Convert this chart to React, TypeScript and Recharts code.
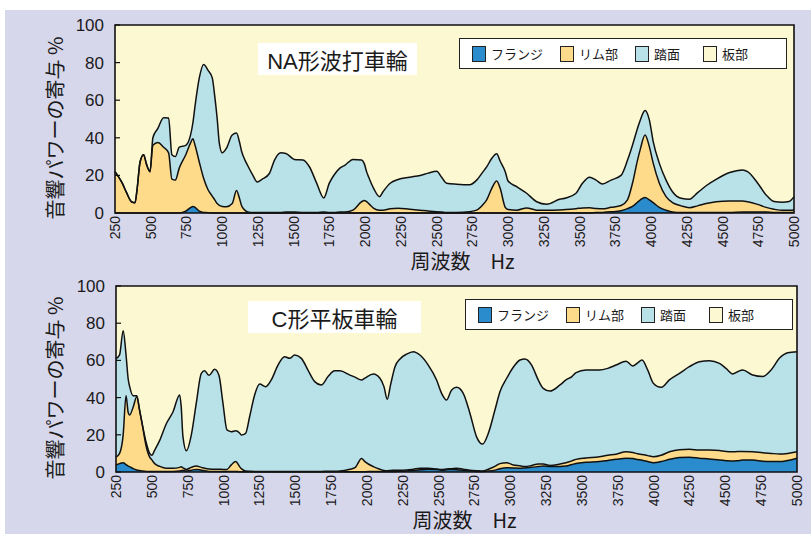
import { ComposedChart, Area, Line, XAxis, YAxis, ReferenceArea } from 'recharts';

const LATIN = '"Liberation Sans", Arial, "Noto Sans CJK JP", sans-serif';
const JP = '"Noto Sans CJK JP", "Liberation Sans", sans-serif';

const freqTicks = [250, 500, 750, 1000, 1250, 1500, 1750, 2000, 2250, 2500, 2750, 3000, 3250, 3500, 3750, 4000, 4250, 4500, 4750, 5000];
const pctTicks = [0, 20, 40, 60, 80, 100];

const seriesKeys = ['flange', 'rim', 'tread', 'plate'];
const seriesNames = ['フランジ', 'リム部', '踏面', '板部'];
const seriesColors = ['#2a8ccc', '#fddb8b', '#b9e1e8', '#fcf8d1'];

// NA形波打車輪 : upper edge of each band (%)
const naFreq = [250, 300, 330, 365, 390, 405, 425, 450, 470, 495, 515, 550, 590, 625, 648, 672, 700, 745, 777, 795, 810, 840, 870, 900, 930, 948, 965, 980, 1000, 1030, 1070, 1100, 1120, 1135, 1160, 1180, 1215, 1245, 1280, 1330, 1365, 1410, 1445, 1505, 1565, 1610, 1660, 1710, 1750, 1785, 1825, 1860, 1915, 1975, 1995, 2010, 2025, 2060, 2100, 2125, 2175, 2230, 2310, 2385, 2440, 2500, 2535, 2570, 2640, 2730, 2780, 2825, 2850, 2885, 2920, 2945, 2980, 3000, 3060, 3130, 3200, 3270, 3360, 3405, 3475, 3520, 3570, 3615, 3660, 3720, 3790, 3835, 3870, 3905, 3925, 3958, 3988, 4015, 4058, 4105, 4150, 4210, 4268, 4326, 4385, 4455, 4550, 4640, 4675, 4745, 4805, 4860, 4920, 4965, 5000];
const naTreadTop = [22, 16, 11, 6, 5.5, 13, 27, 31, 26, 22, 40, 45, 50.7, 50.5, 31, 30, 35, 36, 41, 48, 57, 72, 79, 76, 72, 62, 50, 37, 32, 34.5, 41.5, 42.5, 38, 33, 28, 25, 20, 16.5, 18, 21, 28, 32, 31.7, 28.5, 28.2, 24.6, 16, 8, 16, 20.5, 24, 25.5, 28.5, 28.2, 26, 22, 19, 13, 8.7, 11.3, 15.8, 17.8, 19, 20, 21.2, 22.2, 19, 15.8, 15.3, 15, 17.5, 22, 24.5, 29, 31.5, 27.5, 22, 17, 14, 10.5, 6, 4.7, 7.3, 8, 10.5, 15.8, 19, 17.5, 15.4, 17.5, 20, 28, 36, 45, 49.5, 54.5, 49.5, 38, 26.4, 17.5, 11.3, 7.8, 7.3, 10.8, 14.5, 17.9, 21.5, 22.9, 22, 16, 9.6, 6.1, 5.7, 6.1, 8.7];
const naRimTop = [22, 16, 11, 6, 5.5, 13, 27, 31, 26, 22, 36, 37.5, 35, 32, 18, 17.5, 24, 31, 37, 39.5, 36, 27, 18.5, 12.5, 9, 7, 5, 4, 3.5, 3.3, 5, 12, 8, 4, 1.4, 0.5, 0.2, 0.2, 0.2, 0.3, 0.3, 0.3, 0.5, 0.5, 0.3, 0.3, 0.3, 0.5, 0.3, 0.3, 0.5, 0.5, 1.5, 6, 6.6, 6, 5, 2.5, 1.5, 1.5, 2.3, 2.5, 2, 1.5, 1, 0.7, 0.5, 0.3, 0.3, 0.7, 1.5, 4.5, 7, 13, 17, 13, 3, 1.8, 1.5, 2.7, 1.5, 1.4, 1.6, 1.8, 2.3, 2.7, 2.8, 2.4, 2.2, 3, 4, 7, 15.8, 28, 34, 41.5, 35.3, 26.5, 15.8, 8.7, 5.5, 3.8, 2.8, 3.8, 5, 6, 6.4, 6.4, 6, 4.6, 3, 2, 1.4, 1.4, 1.6];
const naFlangeTop = [0, 0, 0, 0, 0, 0, 0, 0, 0, 0, 0, 0, 0, 0, 0, 0, 0, 1, 2.8, 3.5, 3, 1, 0.3, 0.2, 0, 0, 0, 0, 0, 0, 0, 0, 0, 0, 0, 0, 0, 0, 0, 0, 0, 0, 0, 0, 0, 0, 0, 0, 0, 0, 0, 0, 0, 0, 0, 0, 0, 0, 0, 0, 0, 0, 0, 0, 0, 0, 0, 0, 0, 0, 0, 0, 0, 0, 0, 0, 0, 0, 0, 0, 0, 0, 0, 0, 0, 0, 0, 0.2, 0.3, 0.6, 1.2, 2.3, 3.5, 5.7, 7, 8.3, 7, 5.5, 3, 1.5, 0.5, 0.2, 0.2, 0.2, 0.2, 0.3, 0.3, 0.5, 0.5, 0.5, 0.5, 0.3, 0.3, 0.3, 0.3];

// C形平板車輪
const cFreq = [250, 275, 300, 320, 335, 345, 370, 395, 415, 430, 460, 485, 500, 520, 555, 600, 648, 694, 705, 717, 741, 775, 810, 845, 868, 899, 938, 968, 996, 1024, 1054, 1085, 1112, 1124, 1154, 1182, 1217, 1252, 1294, 1333, 1380, 1426, 1461, 1496, 1543, 1589, 1636, 1682, 1729, 1775, 1812, 1882, 1917, 1963, 1986, 2045, 2091, 2119, 2142, 2165, 2196, 2231, 2277, 2324, 2370, 2428, 2486, 2521, 2556, 2591, 2626, 2672, 2719, 2765, 2807, 2847, 2893, 2928, 2975, 3021, 3068, 3102, 3149, 3195, 3230, 3277, 3347, 3389, 3430, 3459, 3528, 3621, 3680, 3738, 3808, 3854, 3889, 3919, 3959, 3998, 4052, 4110, 4180, 4249, 4319, 4389, 4459, 4505, 4552, 4586, 4621, 4691, 4761, 4819, 4877, 4935, 5000];
const cTreadTop = [61, 63, 76, 63, 50, 46, 41, 41, 33, 27, 16, 10, 9, 11.8, 17, 25.8, 32.4, 41.4, 35, 19, 11.4, 19.8, 37, 53, 54.4, 52, 55.2, 52, 37, 22.6, 21.7, 22.2, 21, 19.9, 20.8, 29.7, 41.4, 47.3, 45.9, 49.5, 57.5, 62, 61.1, 62.9, 61.1, 54.8, 48.6, 46.8, 51.3, 54.4, 54.4, 52.1, 51, 49.5, 50.5, 52.7, 50.4, 45.9, 39.1, 46.8, 56.6, 60.8, 63.4, 64.7, 62.9, 57.5, 49.5, 42.3, 38.7, 44.1, 45.5, 42.3, 31.5, 18.9, 15, 20.8, 33.3, 43.2, 50.4, 56.3, 60.2, 60.8, 57.5, 49.5, 45, 43.5, 46.8, 49.5, 51.3, 53.4, 54.8, 54.8, 55.7, 57.5, 59.6, 57, 58.7, 60.2, 54.8, 47.7, 45.5, 49.5, 53, 56.6, 59.3, 59.8, 58.4, 55.7, 52.7, 53.9, 54.8, 52.1, 51.3, 54.8, 61.1, 64.1, 64.7];
const cRimTop = [8, 10, 20, 41, 32, 30.6, 35, 40.5, 33, 27, 14, 8, 6.5, 4.5, 3, 2, 2, 2.5, 2.8, 2.2, 1.4, 2.5, 3.2, 2.5, 2, 1.6, 1.5, 1.5, 1.4, 1.4, 3.8, 5.6, 2.9, 1.8, 0.5, 0.4, 0.3, 0.3, 0.3, 0.3, 0.3, 0.3, 0.3, 0.3, 0.3, 0.3, 0.3, 0.3, 0.4, 0.4, 0.5, 1.5, 2.3, 7.3, 5.6, 2.9, 1.5, 0.8, 0.7, 0.8, 1, 1, 1.1, 1.5, 2, 2, 1.6, 1.4, 1.6, 1.8, 2, 1.5, 1, 0.7, 0.5, 1.5, 3, 4.5, 5, 3.8, 3.3, 2.9, 3.5, 4.3, 4.3, 3.5, 4.3, 5, 6, 6.8, 7.5, 8.2, 9, 9.6, 10.9, 10.5, 9.8, 9.4, 8.8, 8.2, 9, 10.9, 12, 12.2, 11.8, 11.8, 11.5, 11, 10.9, 11, 11, 10.9, 10.3, 10, 9.7, 10, 10.9];
const cFlangeTop = [3.8, 4.5, 5, 4, 3.2, 2.9, 1.8, 1.1, 0.8, 0.6, 0.3, 0.3, 0.3, 0.3, 0.3, 0.3, 0.3, 0.5, 0.8, 0.8, 0.5, 1, 1.4, 1, 0.7, 0.3, 0.3, 0.3, 0.3, 0.3, 0.3, 0.3, 0.2, 0.2, 0.2, 0.2, 0.2, 0.2, 0.2, 0.2, 0.2, 0.2, 0.2, 0.2, 0.2, 0.2, 0.2, 0.2, 0.2, 0.2, 0.2, 0.2, 0.2, 0.2, 0.2, 0.3, 0.3, 0.3, 0.3, 0.3, 0.3, 0.4, 0.5, 0.8, 1.2, 1.5, 1.4, 1, 1.2, 1.4, 1.2, 1, 0.6, 0.3, 0.3, 0.5, 1, 1.8, 2.3, 2.2, 2, 2.2, 2.5, 2.9, 3.2, 3, 3, 3.2, 4, 4.6, 5.2, 5.6, 6.2, 6.8, 7.4, 7.2, 6.7, 6.3, 5.6, 5, 5.6, 6.8, 7.8, 7.9, 7.4, 7, 6.4, 6.1, 5.9, 6.1, 6.4, 6.4, 5.8, 5.6, 5.6, 6.2, 7.4];

function buildRows(freq: number[], flangeTop: number[], rimTop: number[], treadTop: number[]) {
  return freq.map((f, i) => ({
    f,
    flange: flangeTop[i],
    rim: rimTop[i] - flangeTop[i],
    tread: treadTop[i] - rimTop[i],
    plate: 100 - treadTop[i],
    flangeTop: flangeTop[i],
    rimTop: rimTop[i],
    treadTop: treadTop[i],
  }));
}

const RotTick = (props: any) => {
  const { x, y, payload } = props;
  const ty = y + 3;
  return (
    <text x={x} y={ty} transform={`rotate(-90 ${x} ${ty})`} textAnchor="end" dominantBaseline="central"
      fontSize={14} fontFamily={LATIN} fill="#1a1a1a">
      {payload.value}
    </text>
  );
};

const xTitle = (props: any) => {
  const vb = props.viewBox;
  return (
    <text x={vb.x + vb.width / 2 + 8} y={vb.y + 47} textAnchor="middle" dominantBaseline="central"
      fontSize={20} fontFamily={JP} fill="#1a1a1a">
      周波数　Hz
    </text>
  );
};

const yTitle = (props: any) => {
  const vb = props.viewBox;
  const cy = vb.y + vb.height / 2 + 9;
  return (
    <text x={54} y={cy} transform={`rotate(-90 54 ${cy})`} textAnchor="middle" dominantBaseline="central"
      fontSize={20} fontFamily={JP} fill="#1a1a1a">
      音響パワーの寄与 %
    </text>
  );
};

type PanelProps = {
  rows: ReturnType<typeof buildRows>;
  title: string;
  top: number;
  height: number;
  margin: { top: number; right: number; left: number; bottom: number };
  yWidth: number;
  xHeight: number;
  titleBox: { left: number; top: number; width: number };
  legendBox: { left: number; top: number };
};

function Panel({ rows, title, top, height, margin, yWidth, xHeight, titleBox, legendBox }: PanelProps) {
  const swatchLefts = [12, 100, 175, 243];
  return (
    <div style={{ position: 'absolute', left: 0, top, width: 811, height }}>
      <ComposedChart width={811} height={height} data={rows} margin={margin}>
        <XAxis dataKey="f" type="number" domain={[250, 5000]} ticks={freqTicks} interval={0}
          height={xHeight} tick={RotTick} tickLine={false} axisLine={false} tickSize={0} tickMargin={0}
          label={xTitle} />
        <YAxis type="number" domain={[0, 100]} ticks={pctTicks} interval={0} width={yWidth}
          axisLine={false} tickLine={{ stroke: '#111', strokeWidth: 1.2 }} tickSize={-5} tickMargin={16}
          tick={{ fontSize: 17, fontFamily: LATIN, fill: '#1a1a1a' }} label={yTitle} />
        {seriesKeys.map((k, i) => (
          <Area key={k} dataKey={k} stackId="s" type="monotone" fill={seriesColors[i]} fillOpacity={1}
            stroke="none" isAnimationActive={false} />
        ))}
        {['flangeTop', 'rimTop', 'treadTop'].map((k) => (
          <Line key={k} dataKey={k} type="monotone" stroke="#111" strokeWidth={1.5} dot={false}
            activeDot={false} isAnimationActive={false} />
        ))}
        <ReferenceArea x1={250} x2={5000} y1={0} y2={100} fill="none" stroke="#111" strokeWidth={1.6}
          ifOverflow="visible" />
      </ComposedChart>
      <div style={{
        position: 'absolute', left: titleBox.left, top: titleBox.top, width: titleBox.width, height: 32,
        background: '#fff', display: 'flex', alignItems: 'center', justifyContent: 'center',
        fontFamily: LATIN, fontSize: 22, color: '#1a1a1a',
      }}>
        {title}
      </div>
      <div style={{
        position: 'absolute', left: legendBox.left, top: legendBox.top, width: 326, height: 29,
        background: '#fff', border: '1px solid #222',
      }}>
        {seriesNames.map((name, i) => (
          <div key={name} style={{ position: 'absolute', left: swatchLefts[i], top: 5, height: 19, display: 'flex', alignItems: 'center' }}>
            <div style={{ width: 14, height: 16, background: seriesColors[i], border: '1px solid #222', boxSizing: 'border-box' }} />
            <span style={{ marginLeft: 5, fontFamily: JP, fontSize: 13, color: '#1a1a1a' }}>{name}</span>
          </div>
        ))}
      </div>
    </div>
  );
}

const naRows = buildRows(naFreq, naFlangeTop, naRimTop, naTreadTop);
const cRows = buildRows(cFreq, cFlangeTop, cRimTop, cTreadTop);

export default function App() {
  return (
    <div style={{ position: 'absolute', left: 0, top: 0, width: 811, height: 534, background: '#fff', overflow: 'hidden' }}>
      <div style={{ position: 'absolute', left: 5, top: 10, width: 806, height: 524, background: '#d7d7ec' }} />
      <Panel rows={cRows} title="C形平板車輪" top={270} height={264}
        margin={{ top: 16, right: 14, left: 0, bottom: 0 }} yWidth={116} xHeight={62}
        titleBox={{ left: 248, top: 31, width: 173 }} legendBox={{ left: 465, top: 29 }} />
      <Panel rows={naRows} title="NA形波打車輪" top={0} height={278}
        margin={{ top: 25, right: 17, left: 0, bottom: 0 }} yWidth={115} xHeight={65}
        titleBox={{ left: 258, top: 43, width: 159 }} legendBox={{ left: 459, top: 38 }} />
    </div>
  );
}
